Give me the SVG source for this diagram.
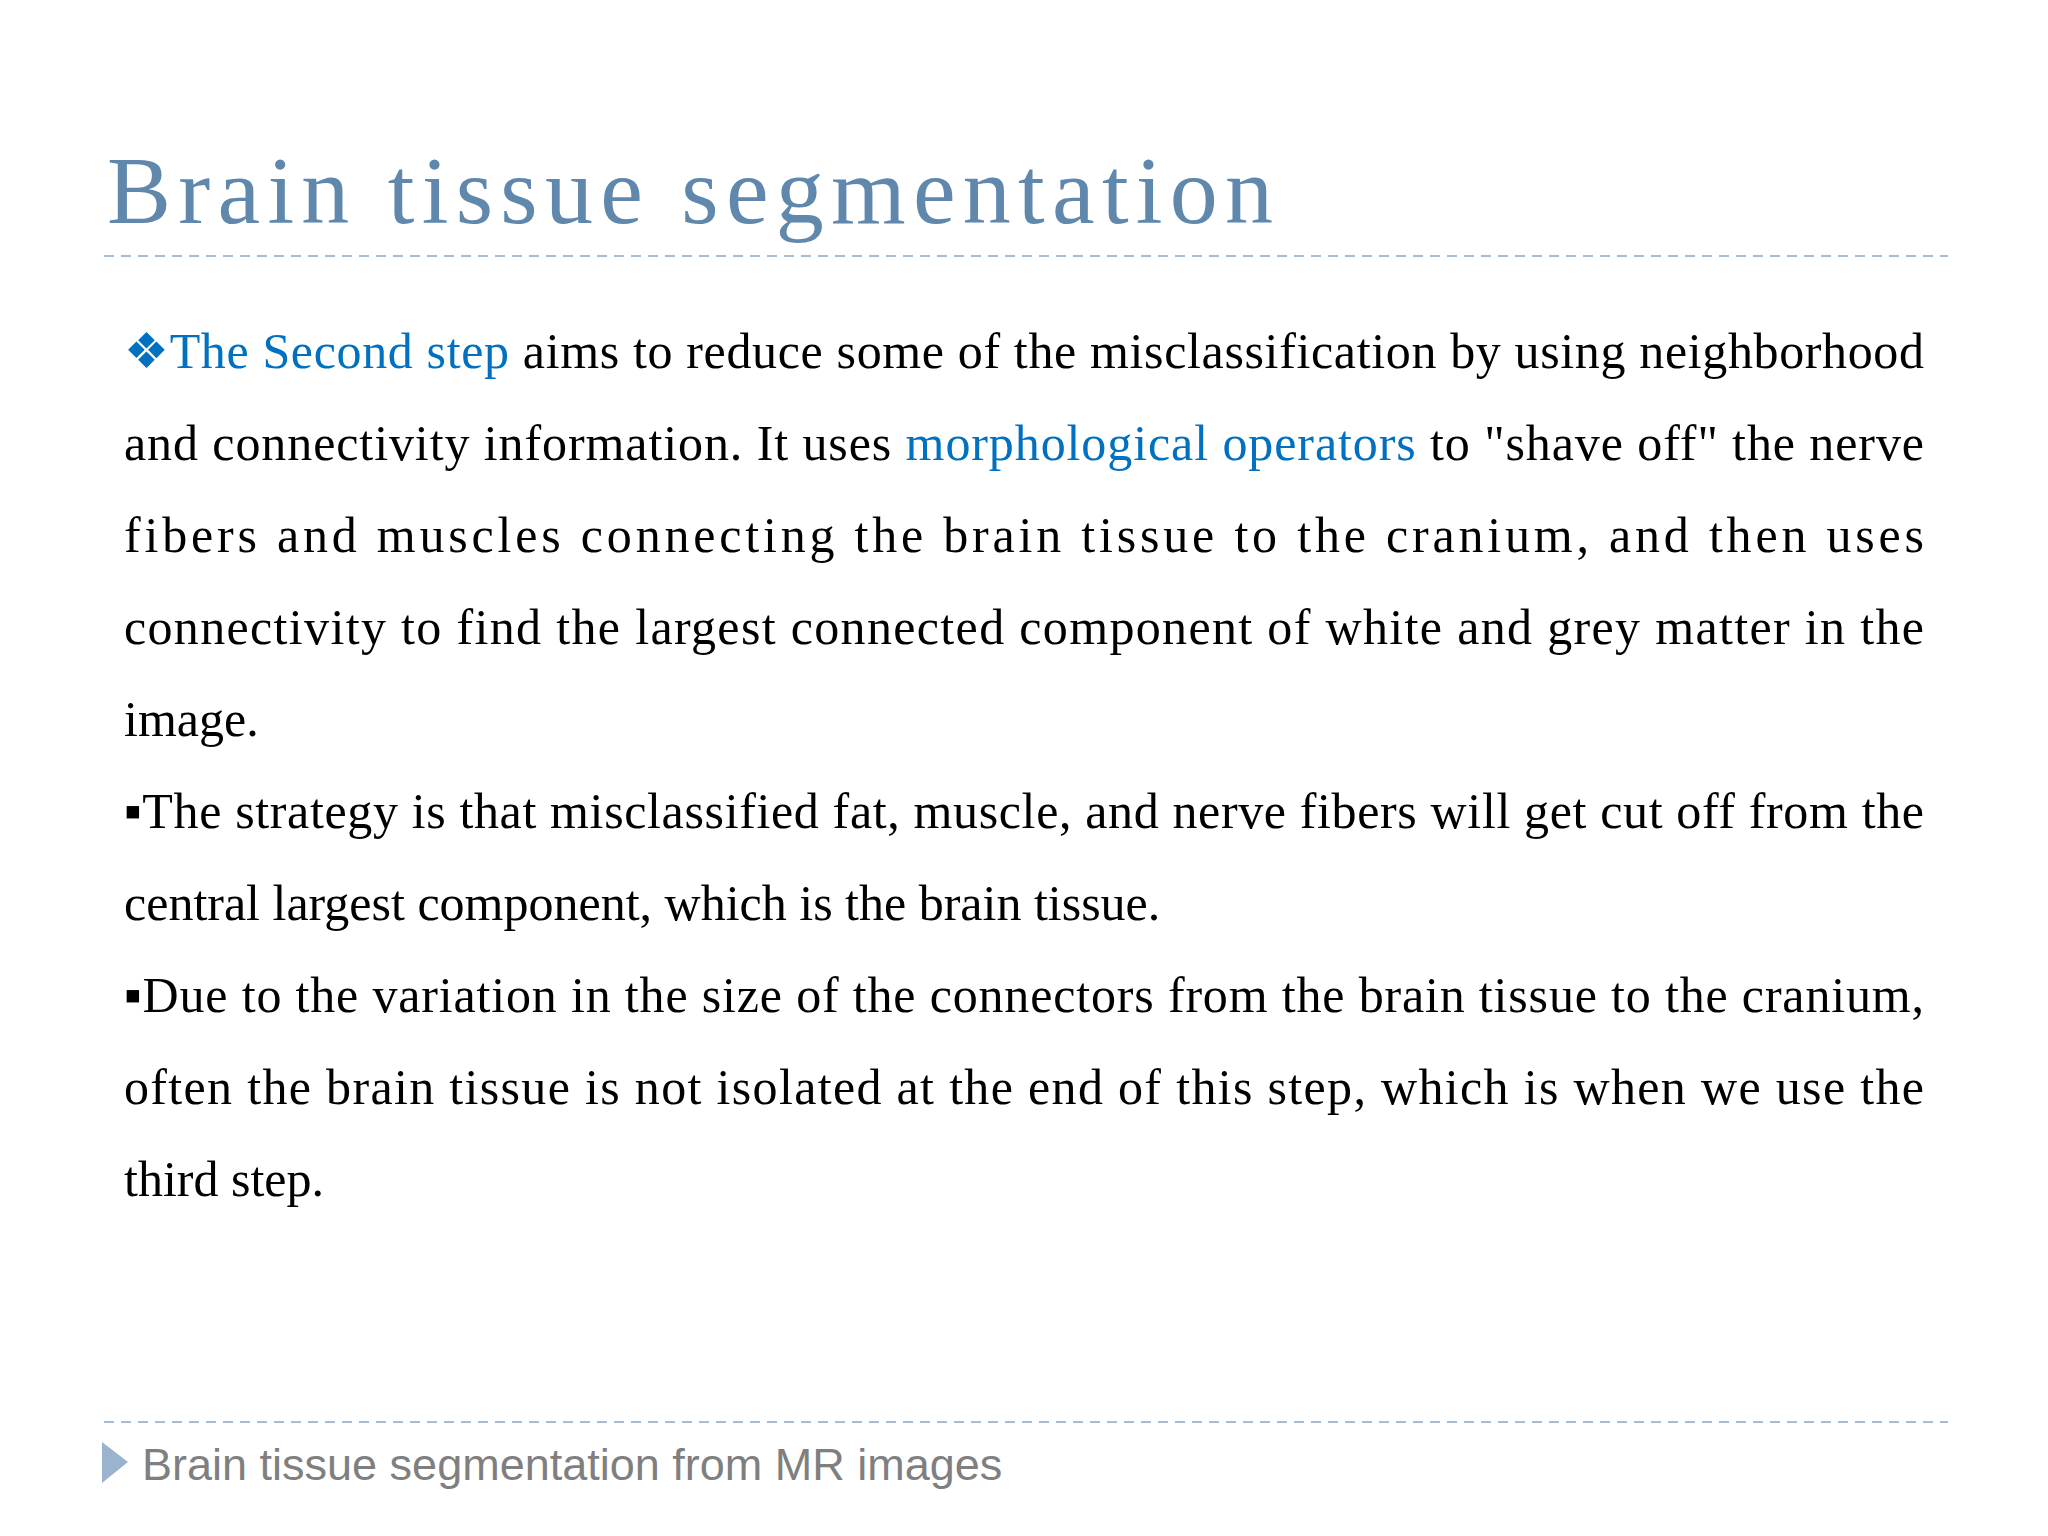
<svg xmlns="http://www.w3.org/2000/svg" width="2048" height="1536" viewBox="0 0 2048 1536">
<style>
.b{font-family:"Liberation Serif","Times New Roman",serif;font-size:50px;fill:#000}
.h{fill:#0070c0}
.d{stroke:#a9bccd;stroke-width:2;stroke-dasharray:10,7}
</style>
<rect width="2048" height="1536" fill="#fff"/>
<text x="107" y="223" font-family="Liberation Serif,serif" font-size="96" fill="#6088ad" textLength="1166" lengthAdjust="spacing">Brain tissue segmentation</text>
<line class="d" x1="104" y1="256" x2="1948" y2="256"/>
<g id="body">
<text class="b" x="124" y="368" textLength="1800" lengthAdjust="spacing"><tspan class="h">❖The Second step</tspan> aims to reduce some of the misclassification by using neighborhood</text>
<text class="b" x="124" y="460" textLength="1800" lengthAdjust="spacing">and connectivity information. It uses <tspan class="h">morphological operators</tspan> to "shave off" the nerve</text>
<text class="b" x="124" y="552" textLength="1800" lengthAdjust="spacing">fibers and muscles connecting the brain tissue to the cranium, and then uses</text>
<text class="b" x="124" y="644" textLength="1800" lengthAdjust="spacing">connectivity to find the largest connected component of white and grey matter in the</text>
<text class="b" x="124" y="736">image.</text>
<text class="b" x="124" y="828" textLength="1800" lengthAdjust="spacing">▪The strategy is that misclassified fat, muscle, and nerve fibers will get cut off from the</text>
<text class="b" x="124" y="920">central largest component, which is the brain tissue.</text>
<text class="b" x="124" y="1012" textLength="1800" lengthAdjust="spacing">▪Due to the variation in the size of the connectors from the brain tissue to the cranium,</text>
<text class="b" x="124" y="1104" textLength="1800" lengthAdjust="spacing">often the brain tissue is not isolated at the end of this step, which is when we use the</text>
<text class="b" x="124" y="1196">third step.</text>
</g>
<line class="d" x1="104" y1="1422" x2="1948" y2="1422"/>
<g id="footer">
<polygon points="102,1442 128,1462 102,1483" fill="#9ab4cd"/>
<text x="142" y="1480" font-family="Liberation Sans,Arial,sans-serif" font-size="45" fill="#7f7f7f">Brain tissue segmentation from MR images</text>
</g>
</svg>
